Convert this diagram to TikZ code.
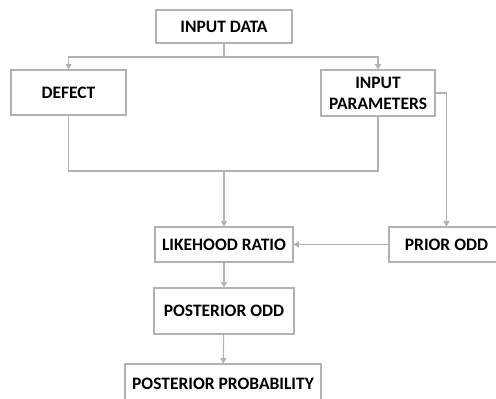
\documentclass[tikz,border=0pt]{standalone}
\usepackage{fontspec}
\setmainfont{Carlito}
\usetikzlibrary{arrows.meta}

\tikzset{
  box/.style={draw=black!30, line width=0.8pt, fill=white, inner sep=0pt,
    align=center, font=\bfseries\fontsize{13.1}{15.75}\selectfont},
  link/.style={draw=black!30, line width=0.8pt},
  arr/.style={link, -{Triangle[length=4pt,width=4.5pt]}}
}

\begin{document}
\begin{tikzpicture}[x=0.75pt,y=-0.75pt]

        \clip (0,0) rectangle (496,399);

        % boxes
        \node[box, minimum width=102pt, minimum height=24.75pt] (data) at (224,26.5) {INPUT DATA};
        \node[box, minimum width=86.25pt, minimum height=33.75pt] (defect) at (68.5,92.5) {DEFECT};
        \node[box, minimum width=85.5pt, minimum height=34.5pt] (params) at (378,93) {INPUT\\PARAMETERS};
        \node[box, minimum width=103.5pt, minimum height=26.25pt] (ratio) at (224,244.5) {LIKEHOOD RATIO};
        \node[box, minimum width=86.25pt, minimum height=26.25pt] (prior) at (446.5,244.5) {PRIOR ODD};
        \node[box, minimum width=105pt, minimum height=34.5pt] (postodd) at (224,311) {POSTERIOR ODD};
        \node[box, minimum width=147pt, minimum height=30pt] (postprob) at (223,384) {POSTERIOR PROBABILITY};

        \coordinate (split) at (224,57);
        \coordinate (join) at (224,171);

        % connectors
        \draw[link] (data.south) -- (split);
        \draw[arr] (split) -| (defect.north);
        \draw[arr] (split) -| (params.north);
        \draw[link] (defect.south) |- (join) -| (params.south);
        \draw[arr] (join) -- (ratio.north);
        \draw[arr] (params.east) -| (prior.north);
        \draw[arr] (prior.west) -- (ratio.east);
        \draw[arr] (ratio) -- (postodd);
        \draw[arr] (postodd) -- (postprob);

\end{tikzpicture}
\end{document}
